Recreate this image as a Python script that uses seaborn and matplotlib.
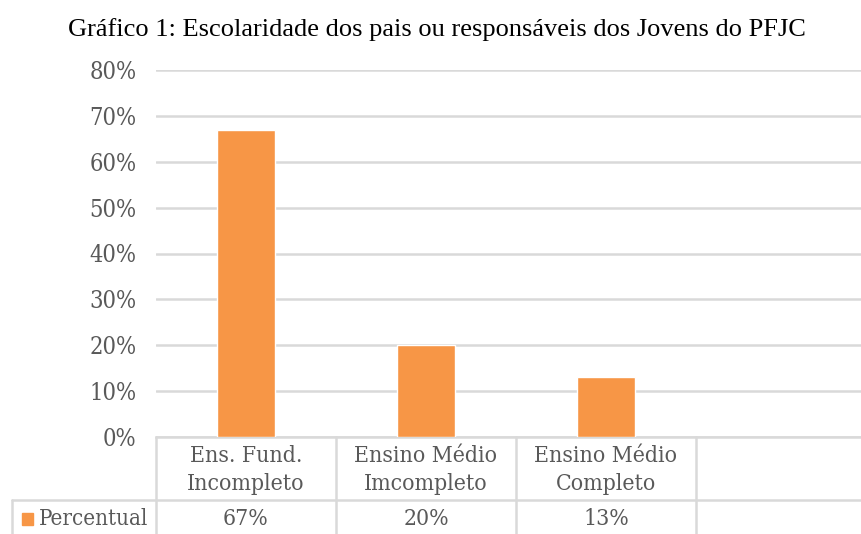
import matplotlib
matplotlib.use("Agg")
import matplotlib.pyplot as plt
import seaborn as sns
import pandas as pd
import numpy as np
from matplotlib.patches import Rectangle

# data
categories = ["Ens. Fund.\nIncompleto", "Ensino Médio\nImcompleto", "Ensino Médio\nCompleto", ""]
values = [0.67, 0.20, 0.13, np.nan]
value_labels = ["67%", "20%", "13%", ""]
series_name = "Percentual"
title = "Gráfico 1: Escolaridade dos pais ou responsáveis dos Jovens do PFJC"

bar_color = "#f79646"
text_color = "#595959"
grid_color = "#d9d9d9"

sns.set_style("white")
plt.rcParams['font.family'] = ["DejaVu Serif"]
plt.rcParams['font.stretch'] = "condensed"

df = pd.DataFrame({"cat": [str(i) for i in range(len(categories))], "val": values})

fig = plt.figure(figsize=(8.62, 5.34), dpi=100)
ax = fig.add_axes([156 / 862, 1 - 437 / 534, 720 / 862, 367 / 534])

sns.barplot(data=df, x="cat", y="val", color=bar_color, width=0.32, ax=ax,
            saturation=1, zorder=3)

ax.set_ylim(0, 0.8)
ax.set_xlim(-0.5, len(categories) - 0.5)
ax.set_yticks(np.arange(0, 0.81, 0.1))
ax.set_yticklabels([f"{int(round(t * 100))}%" for t in np.arange(0, 0.81, 0.1)],
                   fontsize=17, color=text_color)
ax.tick_params(axis="y", length=0, pad=14)
ax.set_xticks([])
ax.set_xlabel("")
ax.set_ylabel("")
ax.yaxis.grid(True, color=grid_color, linewidth=1.8, zorder=0)
for s in ["top", "right", "left"]:
    ax.spines[s].set_visible(False)
ax.spines["bottom"].set_color(grid_color)
ax.spines["bottom"].set_linewidth(1.8)

fig.suptitle(title, x=437 / 862, y=1 - 30 / 534, va="center",
             fontsize=19, family="Liberation Serif", stretch="normal", color="black")

# data table below the axis
trans = ax.get_xaxis_transform()
row_split = (437 - 500) / 367
table_bottom = (437 - 540) / 367
for k in range(len(categories) + 1):
    ax.plot([k - 0.5, k - 0.5], [0, table_bottom], transform=trans,
            color=grid_color, lw=1.8, clip_on=False)
ax.plot([-0.5 - 144 / 180, len(categories) - 0.5], [row_split, row_split],
        transform=trans, color=grid_color, lw=1.8, clip_on=False)
ax.plot([-0.5 - 144 / 180, -0.5 - 144 / 180], [row_split, table_bottom],
        transform=trans, color=grid_color, lw=1.8, clip_on=False)

for k, (c, v) in enumerate(zip(categories, value_labels)):
    ax.text(k, (437 - 470) / 367, c, transform=trans, ha="center", va="center",
            fontsize=16.5, color=text_color, linespacing=1.3)
    ax.text(k, (437 - 519) / 367, v, transform=trans, ha="center", va="center",
            fontsize=16.5, color=text_color)

ax.add_patch(Rectangle((-0.5 - 134 / 180, (437 - 525) / 367), 11 / 180, 12 / 367,
                       transform=trans, color=bar_color, clip_on=False))
ax.text(-0.5 - 117 / 180, (437 - 519) / 367, series_name, transform=trans,
        ha="left", va="center", fontsize=16, color=text_color)

fig.savefig("out.png", dpi=100)
